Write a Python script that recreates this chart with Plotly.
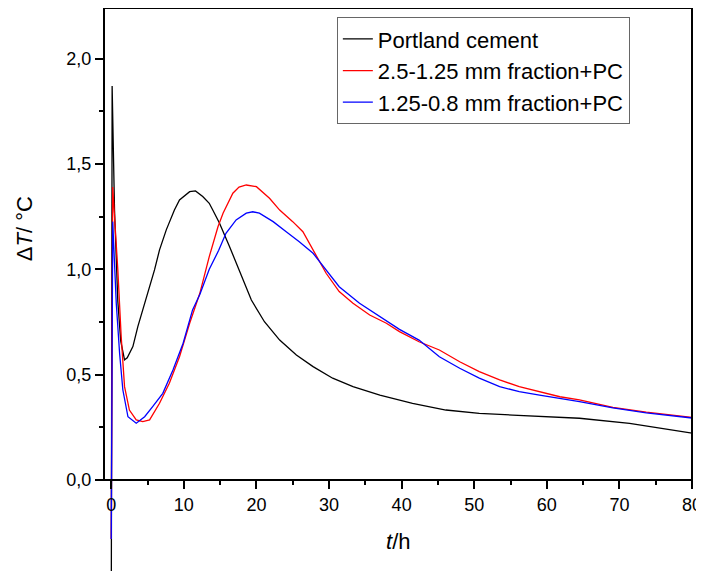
import plotly.graph_objects as go

# Portland cement
t_pc = [0.0, 0.12, 0.45, 0.9, 1.3, 1.83, 2.2, 2.98, 3.66, 4.35, 5.28, 5.96, 6.65, 7.58,
        8.7, 9.4, 10.8, 11.6, 12.6, 13.5, 14.0, 14.9, 16.3, 17.4, 19.3, 21.1, 23.2,
        25.5, 27.8, 30.5, 33.3, 37.0, 41.5, 46.1, 50.7, 55.3, 59.9, 64.5, 71.4, 76.0, 80.0]
dT_pc = [-0.7, 1.87, 1.28, 0.85, 0.66, 0.57, 0.58, 0.633, 0.728, 0.807, 0.917, 0.997,
         1.092, 1.187, 1.281, 1.329, 1.368, 1.372, 1.345, 1.313, 1.28, 1.22, 1.107,
         1.012, 0.854, 0.751, 0.664, 0.593, 0.538, 0.483, 0.443, 0.403, 0.364, 0.332,
         0.316, 0.308, 0.30, 0.293, 0.269, 0.245, 0.222]

# 2.5-1.25 mm fraction + PC
t_f1 = [0.0, 0.2, 0.9, 1.37, 1.83, 2.5, 3.44, 4.35, 5.28, 6.65, 8.0, 9.4, 10.8, 12.2,
        13.5, 14.7, 15.4, 16.3, 16.75, 17.6, 18.6, 20.0, 21.8, 23.2, 25.0, 26.4, 27.8,
        29.6, 31.4, 33.3, 35.6, 37.9, 39.7, 42.4, 45.2, 48.0, 50.7, 53.5, 56.2, 59.0,
        61.8, 64.5, 69.1, 73.7, 80.0]
dT_f1 = [-0.28, 1.39, 1.0, 0.68, 0.443, 0.332, 0.285, 0.277, 0.285, 0.364, 0.459,
         0.585, 0.744, 0.886, 1.06, 1.202, 1.266, 1.329, 1.361, 1.39, 1.40, 1.392,
         1.337, 1.281, 1.226, 1.178, 1.092, 0.981, 0.894, 0.839, 0.783, 0.744, 0.704,
         0.656, 0.617, 0.561, 0.514, 0.475, 0.443, 0.419, 0.395, 0.38, 0.345, 0.322,
         0.297]

# 1.25-0.8 mm fraction + PC
t_f2 = [0.0, 0.2, 0.69, 1.15, 1.6, 2.3, 3.44, 4.6, 5.7, 7.1, 8.5, 9.9, 11.2, 12.2,
        13.5, 14.8, 15.8, 17.2, 18.6, 19.5, 20.4, 22.3, 24.1, 25.9, 27.8, 29.6, 31.4,
        34.2, 37.0, 39.7, 42.4, 45.2, 48.0, 50.7, 53.5, 56.2, 59.0, 61.8, 64.5, 69.1,
        73.7, 80.0]
dT_f2 = [-0.28, 1.226, 0.839, 0.60, 0.427, 0.30, 0.269, 0.30, 0.348, 0.411, 0.522,
         0.649, 0.807, 0.88, 1.0, 1.09, 1.171, 1.234, 1.266, 1.273, 1.266, 1.226,
         1.178, 1.131, 1.076, 0.997, 0.917, 0.839, 0.775, 0.715, 0.664, 0.585, 0.53,
         0.483, 0.443, 0.419, 0.403, 0.388, 0.372, 0.342, 0.318, 0.294]

x_ticks = [0, 10, 20, 30, 40, 50, 60, 70, 80]
x_minor = [5, 15, 25, 35, 45, 55, 65, 75]
y_ticks = [0.0, 0.5, 1.0, 1.5, 2.0]
y_minor = [0.25, 0.75, 1.25, 1.75]

x_range = [-1.0, 80.0]
y_range = [-0.47, 2.24]
font = "Liberation Sans, Arial, sans-serif"

fig = go.Figure()
fig.add_trace(go.Scatter(x=t_pc, y=dT_pc, mode="lines", name="Portland cement",
                         line=dict(color="black", width=1.3)))
fig.add_trace(go.Scatter(x=t_f1, y=dT_f1, mode="lines", name="2.5-1.25 mm fraction+PC",
                         line=dict(color="red", width=1.3)))
fig.add_trace(go.Scatter(x=t_f2, y=dT_f2, mode="lines", name="1.25-0.8 mm fraction+PC",
                         line=dict(color="blue", width=1.3)))

axis_common = dict(ticks="outside", ticklen=8, tickwidth=2, tickcolor="black",
                   showgrid=False, zeroline=False,
                   tickfont=dict(family=font, size=18, color="black"))

fig.update_layout(
    width=704,
    height=571,
    margin=dict(l=96, r=20, t=0, b=0),
    plot_bgcolor="white",
    paper_bgcolor="white",
    separators=", ",
    showlegend=True,
    legend=dict(x=0.396, y=0.984, xanchor="left", yanchor="top",
                bgcolor="white", bordercolor="#666666", borderwidth=1,
                font=dict(family=font, size=22, color="black"),
                tracegroupgap=0),
    xaxis=dict(range=x_range, tickvals=x_ticks, anchor="free",
               position=(0 - y_range[0]) / (y_range[1] - y_range[0]),
               showline=True, linewidth=2, linecolor="black",
               minor=dict(tickvals=x_minor, ticks="outside", ticklen=4,
                          tickwidth=2, tickcolor="black"),
               **axis_common),
    yaxis=dict(range=y_range, tickvals=y_ticks, tickformat=".1f", showline=False,
               minor=dict(tickvals=y_minor, ticks="outside", ticklen=4,
                          tickwidth=2, tickcolor="black"),
               **axis_common),
    shapes=[dict(type="rect", xref="paper", yref="y", x0=0, x1=1,
                 y0=0, y1=y_range[1], line=dict(color="black", width=2))],
    annotations=[
        dict(text="Δ<i>T</i>/ °C", xref="paper", yref="paper", x=-0.134, y=0.613,
             xanchor="center", yanchor="middle",
             textangle=-90, showarrow=False,
             font=dict(family=font, size=22, color="black")),
        dict(text="<i>t</i>/h", xref="paper", yref="paper", x=0.5, y=0.0665,
             xanchor="center", yanchor="middle",
             showarrow=False, font=dict(family=font, size=22, color="black")),
    ],
)

fig.write_html("out.html")
